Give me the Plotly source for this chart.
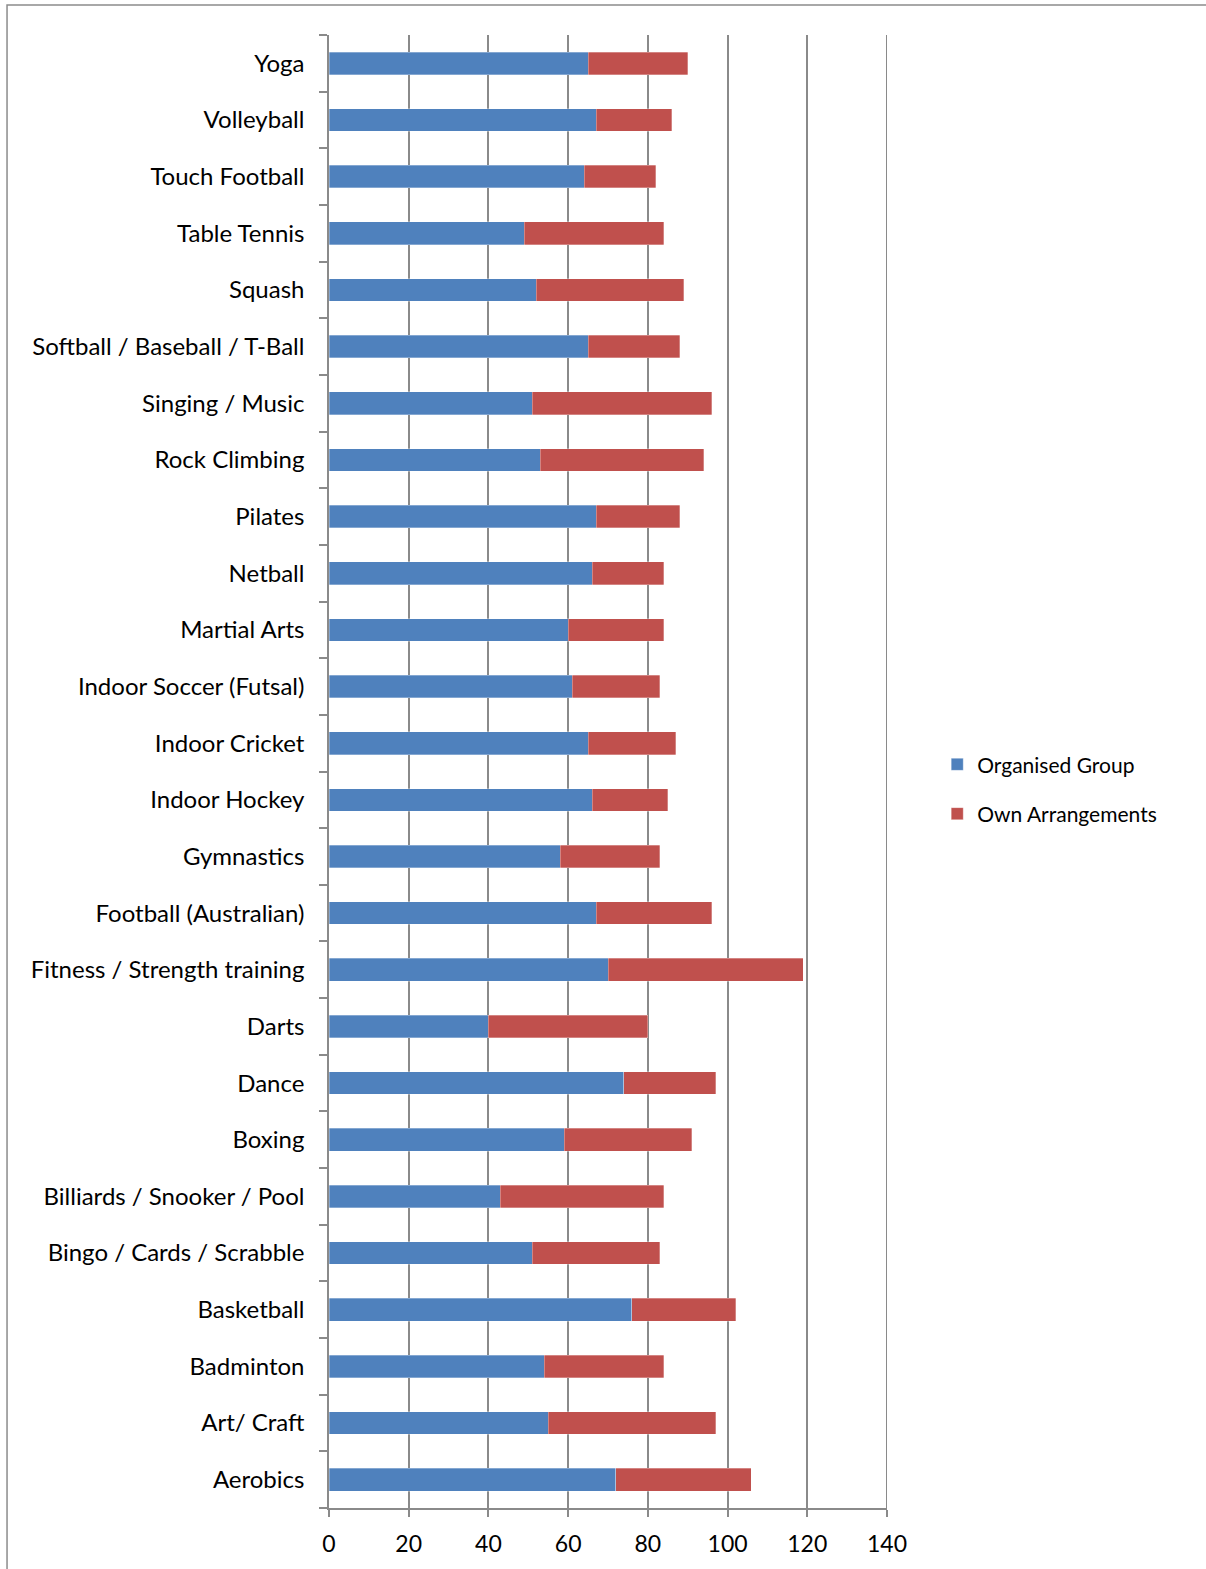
import plotly.graph_objects as go

# Activities, listed bottom to top as they appear on the axis
activities = [
    "Aerobics", "Art/ Craft", "Badminton", "Basketball", "Bingo / Cards / Scrabble",
    "Billiards / Snooker / Pool", "Boxing", "Dance", "Darts", "Fitness / Strength training",
    "Football (Australian)", "Gymnastics", "Indoor Hockey", "Indoor Cricket",
    "Indoor Soccer (Futsal)", "Martial Arts", "Netball", "Pilates", "Rock Climbing",
    "Singing / Music", "Softball / Baseball / T-Ball", "Squash", "Table Tennis",
    "Touch Football", "Volleyball", "Yoga",
]

organised_group = [72, 55, 54, 76, 51, 43, 59, 74, 40, 70,
                   67, 58, 66, 65, 61, 60, 66, 67, 53, 51,
                   65, 52, 49, 64, 67, 65]

own_arrangements = [34, 42, 30, 26, 32, 41, 32, 23, 40, 49,
                    29, 25, 19, 22, 22, 24, 18, 21, 41, 45,
                    23, 37, 35, 18, 19, 25]

x_ticks = [0, 20, 40, 60, 80, 100, 120, 140]

FONT = "Lato, 'Open Sans', sans-serif"
GRID = "#8a8a8a"

fig = go.Figure()
fig.add_trace(go.Bar(
    y=activities, x=organised_group, orientation="h", name="Organised Group",
    legendgroup="a",
    marker=dict(color="#4F81BD", line=dict(color="rgba(255,255,255,0.5)", width=0.6)),
))
fig.add_trace(go.Bar(
    y=activities, x=own_arrangements, orientation="h", name="Own Arrangements",
    legendgroup="b",
    marker=dict(color="#C0504D", line=dict(color="rgba(255,255,255,0.5)", width=0.6)),
))

fig.update_layout(
    width=1206, height=1569,
    margin=dict(l=329, r=319, t=35, b=61),
    barmode="stack", bargap=0.6,
    paper_bgcolor="white", plot_bgcolor="white",
    font=dict(family=FONT, size=24, color="black"),
    showlegend=True,
    legend=dict(
        x=1.09, y=0.488, xanchor="left", yanchor="middle",
        traceorder="grouped", tracegroupgap=19,
        font=dict(family=FONT, size=21, color="black"),
        itemwidth=30,
    ),
    xaxis=dict(
        range=[0, 140], tickvals=x_ticks, ticktext=[str(v) for v in x_ticks],
        showgrid=True, gridcolor=GRID, gridwidth=1.5,
        showline=True, linecolor=GRID, linewidth=1.5,
        ticks="outside", ticklen=7, tickcolor=GRID, tickwidth=1.5,
        zeroline=False, fixedrange=True, ticklabelstandoff=8,
        tickfont=dict(family=FONT, size=23, color="black"),
    ),
    yaxis=dict(
        type="category", categoryorder="array", categoryarray=activities,
        showline=True, linecolor=GRID, linewidth=1.5,
        ticks="outside", ticklen=8, tickcolor=GRID, tickwidth=1.5,
        tickson="boundaries", showgrid=False, ticklabelstandoff=18,
        tickfont=dict(family=FONT, size=24, color="black"),
        fixedrange=True,
    ),
    shapes=[
        # outer chart frame
        dict(
            type="rect", xref="paper", yref="paper",
            x0=-0.577, x1=1.6, y0=-0.2, y1=1.0204,
            line=dict(color="#8c8c8c", width=1.5), layer="below",
        ),
        # closing gridline at the axis maximum
        dict(
            type="line", xref="x", yref="paper",
            x0=x_ticks[-1], x1=x_ticks[-1], y0=-7 / 1473, y1=1,
            line=dict(color=GRID, width=2), layer="below",
        ),
    ],
)

fig.write_html("out.html")
